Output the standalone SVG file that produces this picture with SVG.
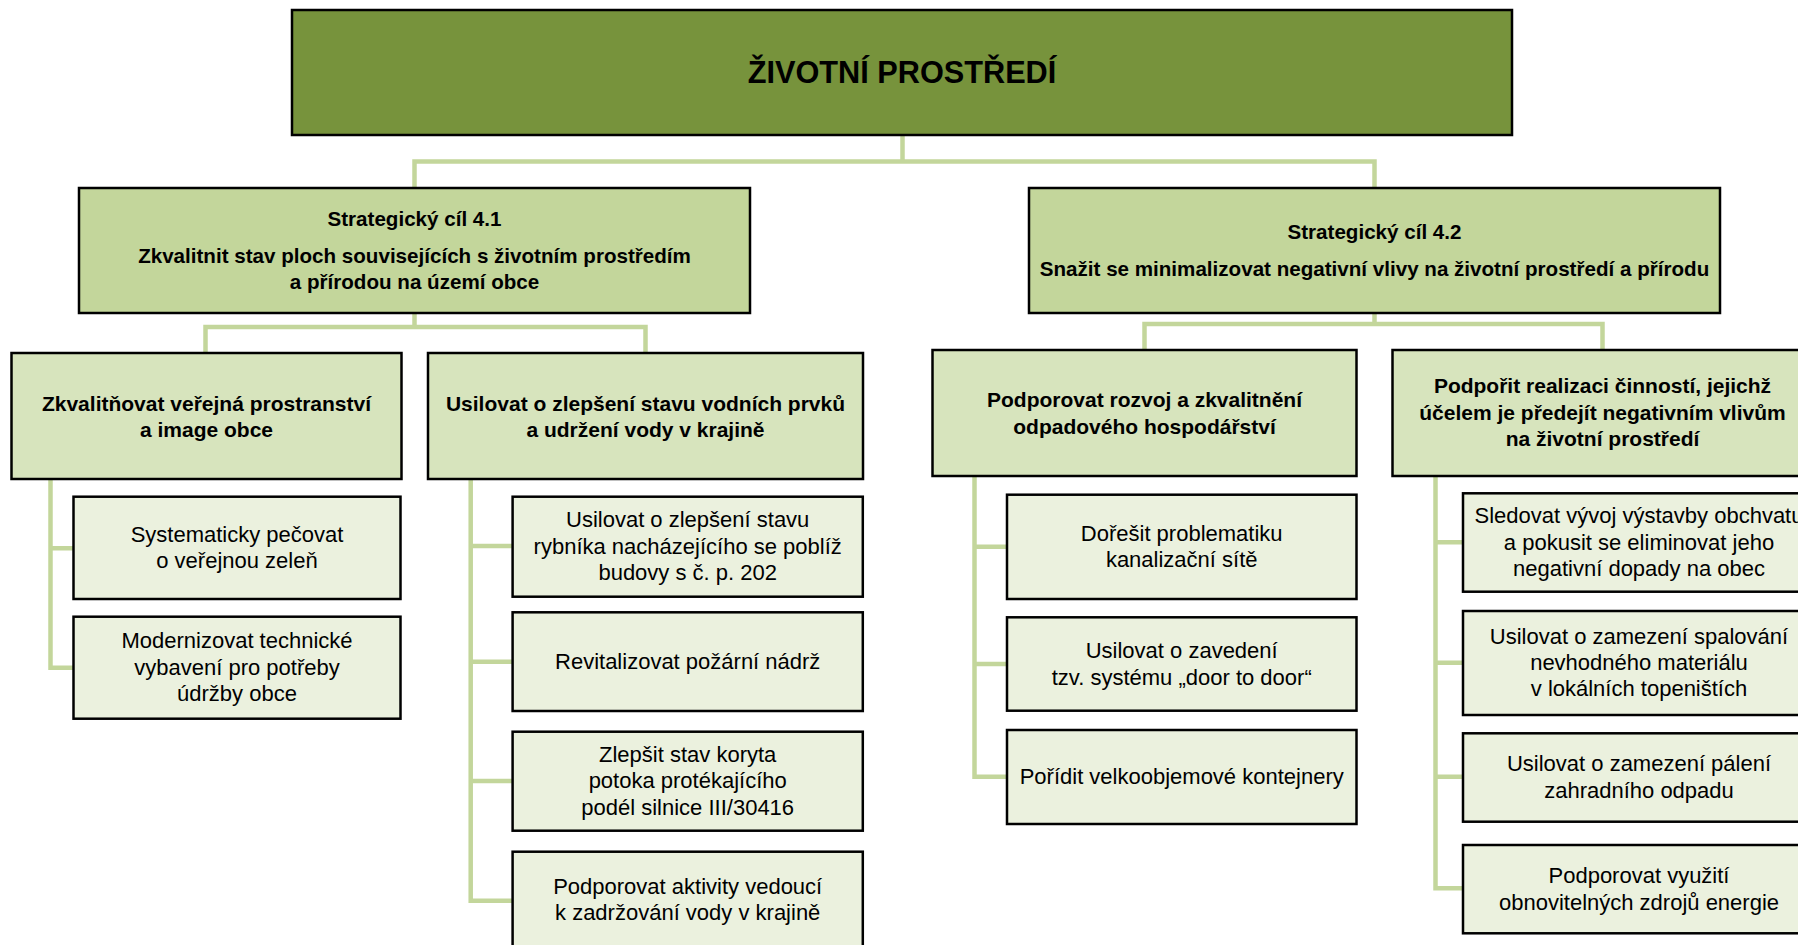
<svg xmlns="http://www.w3.org/2000/svg" width="1798" height="945" viewBox="0 0 1798 945">
<style>
text{font-family:"Liberation Sans",Arial,sans-serif;fill:#000;text-anchor:middle}
.t0{font-size:30.7px;font-weight:bold}
.t1{font-size:20.6px;font-weight:bold}
.t2{font-size:21px;font-weight:bold}
.t3{font-size:22px}
.box{stroke:#000;stroke-width:2.5}
.root{fill:#77933c}
.sc{fill:#c3d69b}
.l2{fill:#d7e4bd}
.lf{fill:#ebf1de}
.con{fill:none;stroke:#c3d69b;stroke-width:4.5}
</style>
<rect width="1798" height="945" fill="#fff"/>
<g id="connectors">
<path class="con" d="M902.5 135V161.5M414.5 188V161.5H1374.5V188"/>
<path class="con" d="M414.5 313V327M205.5 353V327H645.5V353"/>
<path class="con" d="M1374.5 313V324M1144.5 350V324H1602.5V350"/>
<path class="con" d="M50.5 479V667.7H73.5M50.5 548.3H73.5"/>
<path class="con" d="M470.7 479V900.7H512.6M470.7 546H512.6M470.7 661.7H512.6M470.7 781H512.6"/>
<path class="con" d="M974.5 476V776.7H1007M974.5 546.7H1007M974.5 664H1007"/>
<path class="con" d="M1435.5 476V888.3H1463M1435.5 542.3H1463M1435.5 662.7H1463M1435.5 776.7H1463"/>
</g>
<g id="root"><rect class="box root" x="292" y="10" width="1220" height="125"/><text class="t0" x="902" y="82.5">ŽIVOTNÍ PROSTŘEDÍ</text></g>
<g id="sc41"><rect class="box sc" x="79" y="188" width="671" height="125"/>
<text class="t1" x="414.5" y="226.3">Strategický cíl 4.1</text>
<text class="t1" x="414.5" y="263">Zkvalitnit stav ploch souvisejících s životním prostředím</text>
<text class="t1" x="414.5" y="289">a přírodou na území obce</text></g>
<g id="sc42"><rect class="box sc" x="1029" y="188" width="691" height="125"/>
<text class="t1" x="1374.5" y="239.3">Strategický cíl 4.2</text>
<text class="t1" x="1374.5" y="276.3">Snažit se minimalizovat negativní vlivy na životní prostředí a přírodu</text></g>
<g id="a"><rect class="box l2" x="11.5" y="353" width="390" height="126"/>
<text class="t2" x="206.5" y="410.5">Zkvalitňovat veřejná prostranství</text>
<text class="t2" x="206.5" y="436.5">a image obce</text></g>
<g id="b"><rect class="box l2" x="428" y="353" width="435" height="126"/>
<text class="t2" x="645.5" y="410.5">Usilovat o zlepšení stavu vodních prvků</text>
<text class="t2" x="645.5" y="436.5">a udržení vody v krajině</text></g>
<g id="c"><rect class="box l2" x="932.5" y="350" width="424" height="126"/>
<text class="t2" x="1144.5" y="407">Podporovat rozvoj a zkvalitnění</text>
<text class="t2" x="1144.5" y="433.7">odpadového hospodářství</text></g>
<g id="d"><rect class="box l2" x="1392.5" y="350" width="420" height="126"/>
<text class="t2" x="1602.5" y="393">Podpořit realizaci činností, jejichž</text>
<text class="t2" x="1602.5" y="419.7">účelem je předejít negativním vlivům</text>
<text class="t2" x="1602.5" y="445.7">na životní prostředí</text></g>
<g id="a1"><rect class="box lf" x="73.5" y="496.7" width="327" height="102.3"/>
<text class="t3" x="237" y="542">Systematicky pečovat</text>
<text class="t3" x="237" y="568">o veřejnou zeleň</text></g>
<g id="a2"><rect class="box lf" x="73.5" y="616.7" width="327" height="102"/>
<text class="t3" x="237" y="648">Modernizovat technické</text>
<text class="t3" x="237" y="675">vybavení pro potřeby</text>
<text class="t3" x="237" y="701">údržby obce</text></g>
<g id="b1"><rect class="box lf" x="512.6" y="496.7" width="350.2" height="100"/>
<text class="t3" x="687.7" y="527">Usilovat o zlepšení stavu</text>
<text class="t3" x="687.7" y="553.7">rybníka nacházejícího se poblíž</text>
<text class="t3" x="687.7" y="579.7">budovy s č. p. 202</text></g>
<g id="b2"><rect class="box lf" x="512.6" y="612.3" width="350.2" height="98.7"/>
<text class="t3" x="687.7" y="668.7">Revitalizovat požární nádrž</text></g>
<g id="b3"><rect class="box lf" x="512.6" y="731.7" width="350.2" height="99"/>
<text class="t3" x="687.7" y="762">Zlepšit stav koryta</text>
<text class="t3" x="687.7" y="788">potoka protékajícího</text>
<text class="t3" x="687.7" y="814.7">podél silnice III/30416</text></g>
<g id="b4"><rect class="box lf" x="512.6" y="851.7" width="350.2" height="110"/>
<text class="t3" x="687.7" y="894.3">Podporovat aktivity vedoucí</text>
<text class="t3" x="687.7" y="920.3">k zadržování vody v krajině</text></g>
<g id="c1"><rect class="box lf" x="1007" y="494.7" width="349.5" height="104.3"/>
<text class="t3" x="1181.7" y="541.3">Dořešit problematiku</text>
<text class="t3" x="1181.7" y="567">kanalizační sítě</text></g>
<g id="c2"><rect class="box lf" x="1007" y="617.3" width="349.5" height="93.4"/>
<text class="t3" x="1181.7" y="657.7">Usilovat o zavedení</text>
<text class="t3" x="1181.7" y="685.3">tzv. systému „door to door“</text></g>
<g id="c3"><rect class="box lf" x="1007" y="730" width="349.5" height="94"/>
<text class="t3" x="1181.7" y="783.7">Pořídit velkoobjemové kontejnery</text></g>
<g id="d1"><rect class="box lf" x="1463" y="493.3" width="352" height="98.4"/>
<text class="t3" x="1639" y="523">Sledovat vývoj výstavby obchvatu</text>
<text class="t3" x="1639" y="549.7">a pokusit se eliminovat jeho</text>
<text class="t3" x="1639" y="576.3">negativní dopady na obec</text></g>
<g id="d2"><rect class="box lf" x="1463" y="611" width="352" height="104"/>
<text class="t3" x="1639" y="643.7">Usilovat o zamezení spalování</text>
<text class="t3" x="1639" y="670.3">nevhodného materiálu</text>
<text class="t3" x="1639" y="696.3">v lokálních topeništích</text></g>
<g id="d3"><rect class="box lf" x="1463" y="733.3" width="352" height="88.4"/>
<text class="t3" x="1639" y="771">Usilovat o zamezení pálení</text>
<text class="t3" x="1639" y="797.7">zahradního odpadu</text></g>
<g id="d4"><rect class="box lf" x="1463" y="845" width="352" height="88.3"/>
<text class="t3" x="1639" y="883">Podporovat využití</text>
<text class="t3" x="1639" y="909.7">obnovitelných zdrojů energie</text></g>
</svg>
